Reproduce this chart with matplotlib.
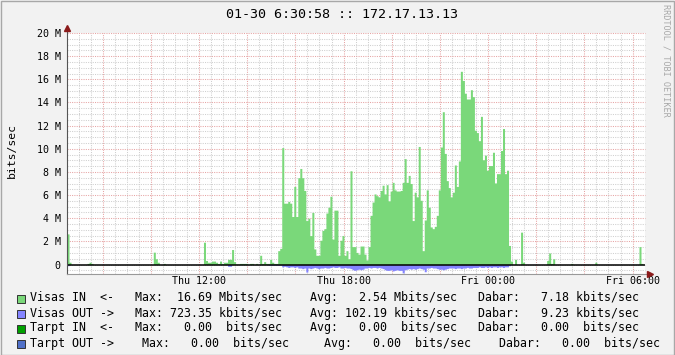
import numpy as np
import matplotlib
matplotlib.use("Agg")
import matplotlib.pyplot as plt

# 5 minute samples, 24 h ending 01-30 06:30:58 (hours counted from Thu 00:00)
start_hour = 6.516
step_hours = 5 / 60

visas_in = [  # Mbit/s
    2.65, 0.2, 0, 0, 0, 0, 0, 0, 0, 0, 0.1, 0.2,
    0.1, 0, 0, 0, 0, 0, 0, 0, 0, 0, 0, 0,
    0, 0, 0, 0, 0, 0, 0, 0, 0, 0, 0, 0,
    0, 0, 0, 0, 0, 0, 0, 1.07, 0.5, 0.2, 0, 0,
    0.1, 0, 0, 0, 0, 0, 0, 0, 0, 0, 0, 0,
    0, 0, 0, 0, 0, 0, 0, 0, 1.93, 0.35, 0.2, 0.2,
    0.3, 0.3, 0.2, 0.1, 0.3, 0.1, 0.2, 0.2, 0.45, 0.45, 1.3, 0.25,
    0.05, 0.05, 0.1, 0.1, 0.1, 0.1, 0, 0.1, 0.1, 0, 0.1, 0,
    0.8, 0.1, 0.25, 0.1, 0.1, 0.45, 0.2, 0.1, 0.1, 1.2, 1.4, 10.1,
    5.3, 5.3, 5.45, 5.3, 4.15, 6.75, 4.15, 7.5, 8.3, 7.5, 6.4, 3.8,
    4.0, 2.5, 4.5, 1.35, 0.8, 0.8, 2.1, 2.95, 3.1, 4.45, 4.95, 5.9,
    2.2, 4.7, 4.7, 0.8, 2.1, 2.5, 0.8, 1.2, 0.5, 8.1, 1.55, 1.55,
    1.05, 0.9, 1.6, 1.6, 0.9, 0.4, 1.55, 4.25, 5.4, 6.1, 5.95, 5.85,
    6.4, 6.85, 6.1, 6.9, 5.5, 6.35, 7.1, 6.45, 6.35, 6.35, 6.4, 7.1,
    9.15, 7.1, 7.7, 7.0, 3.8, 6.25, 5.85, 10.2, 5.55, 1.2, 3.85, 6.45,
    4.95, 3.25, 3.1, 3.3, 4.25, 6.45, 10.15, 13.2, 9.6, 7.25, 6.65, 5.85,
    6.25, 8.6, 6.75, 8.95, 16.69, 15.9, 14.8, 14.3, 14.3, 15.1, 14.5, 11.6,
    11.4, 10.7, 12.8, 9.05, 9.45, 8.15, 8.55, 8.55, 9.7, 7.05, 7.85, 7.85,
    9.85, 11.75, 7.85, 8.15, 1.65, 0.3, 0, 0.45, 0, 0, 2.8, 0.2,
    0, 0, 0, 0, 0, 0, 0, 0, 0, 0, 0, 0.35,
    1.0, 0.1, 0.5, 0, 0, 0, 0, 0, 0, 0, 0, 0.1,
    0, 0, 0, 0, 0, 0, 0, 0, 0, 0, 0, 0.2,
    0, 0, 0, 0, 0, 0, 0, 0, 0, 0, 0, 0,
    0, 0, 0, 0, 0, 0, 0, 0, 0, 1.55, 0.1, 0,
]

visas_out = [  # Mbit/s, drawn below zero
    0.1, 0, 0, 0, 0, 0, 0, 0, 0, 0, 0, 0,
    0, 0, 0, 0, 0, 0, 0, 0, 0, 0, 0, 0,
    0, 0, 0, 0, 0, 0, 0, 0, 0, 0, 0, 0,
    0, 0, 0, 0, 0, 0, 0, 0, 0, 0, 0, 0,
    0, 0, 0, 0, 0, 0, 0, 0, 0, 0, 0, 0,
    0, 0, 0, 0, 0, 0, 0, 0, 0, 0, 0, 0,
    0, 0, 0, 0, 0, 0, 0, 0, 0.15, 0.15, 0, 0,
    0, 0, 0, 0, 0, 0, 0, 0, 0, 0, 0, 0,
    0, 0, 0, 0, 0.05, 0.05, 0.05, 0.05, 0.05, 0.05, 0.05, 0.2,
    0.15, 0.2, 0.25, 0.2, 0.2, 0.25, 0.2, 0.3, 0.3, 0.35, 0.3, 0.65,
    0.3, 0.35, 0.3, 0.25, 0.3, 0.35, 0.3, 0.3, 0.25, 0.3, 0.3, 0.25,
    0.2, 0.25, 0.25, 0.2, 0.3, 0.3, 0.25, 0.3, 0.3, 0.35, 0.45, 0.5,
    0.45, 0.4, 0.45, 0.4, 0.3, 0.3, 0.25, 0.3, 0.25, 0.25, 0.3, 0.25,
    0.3, 0.35, 0.45, 0.5, 0.5, 0.45, 0.55, 0.5, 0.45, 0.5, 0.5, 0.72,
    0.45, 0.4, 0.35, 0.4, 0.35, 0.4, 0.35, 0.3, 0.35, 0.4, 0.62, 0.3,
    0.3, 0.25, 0.3, 0.3, 0.35, 0.4, 0.4, 0.45, 0.4, 0.35, 0.3, 0.3,
    0.3, 0.35, 0.3, 0.3, 0.35, 0.3, 0.3, 0.25, 0.3, 0.3, 0.25, 0.25,
    0.25, 0.2, 0.25, 0.25, 0.2, 0.25, 0.2, 0.25, 0.2, 0.2, 0.25, 0.2,
    0.2, 0.25, 0.2, 0.2, 0.1, 0, 0, 0, 0, 0, 0, 0,
    0, 0, 0, 0, 0, 0, 0, 0, 0, 0, 0, 0,
    0, 0, 0, 0, 0, 0, 0, 0, 0, 0, 0, 0,
    0, 0, 0, 0, 0, 0, 0, 0, 0, 0, 0, 0,
    0, 0, 0, 0, 0, 0, 0, 0, 0, 0, 0, 0,
    0, 0, 0, 0, 0, 0, 0, 0, 0, 0, 0, 0,
]

x_ticks = [12, 18, 24, 30]
x_labels = ["Thu 12:00", "Thu 18:00", "Fri 00:00", "Fri 06:00"]
y_ticks = [0, 2, 4, 6, 8, 10, 12, 14, 16, 18, 20]
y_labels = ["0", "2 M", "4 M", "6 M", "8 M", "10 M", "12 M", "14 M", "16 M", "18 M", "20 M"]

legend_colors = ["#7ad87a", "#8484ff", "#00a000", "#5070c8"]
legend_lines = [
    "Visas IN  <-   Max:  16.69 Mbits/sec    Avg:   2.54 Mbits/sec   Dabar:   7.18 kbits/sec",
    "Visas OUT ->   Max: 723.35 kbits/sec    Avg: 102.19 kbits/sec   Dabar:   9.23 kbits/sec",
    "Tarpt IN  <-   Max:   0.00  bits/sec    Avg:   0.00  bits/sec   Dabar:   0.00  bits/sec",
    "Tarpt OUT ->    Max:   0.00  bits/sec     Avg:   0.00  bits/sec    Dabar:   0.00  bits/sec",
]

MONO = "DejaVu Sans Mono"
W, H = 675, 355
BG = "#f2f2f2"


def fx(px):
    return px / W


def fy(py):
    return 1 - py / H


fig = plt.figure(figsize=(W / 100, H / 100), dpi=100, facecolor=BG)
top_px, bot_px = 33, 274.4
ax = fig.add_axes([fx(67), fy(bot_px), (645 - 67) / W, (bot_px - top_px) / H])
ax.set_facecolor("white")
y_min, y_max = -0.85, 20
x_min, x_max = start_hour, start_hour + 24
ax.set_xlim(x_min, x_max)
ax.set_ylim(y_min, y_max)
for s in ax.spines.values():
    s.set_visible(False)

# grid (rrdtool style dotted)
dots = (0, (1, 1.2))
minor_c, major_c = "#cfcfcf", "#e6a4a4"
for h in np.arange(7.0, x_max, 0.5):
    major = abs(h % 2) < 1e-9
    ax.axvline(h, color=major_c if major else minor_c, lw=0.75, ls=dots,
               zorder=0)
for v in np.arange(-0.5, y_max + 0.01, 0.5):
    major = abs(v % 2) < 1e-9 and v != 0
    ax.axhline(v, color=major_c if major else minor_c, lw=0.75, ls=dots,
               zorder=0, clip_on=False)

t = start_hour + step_hours * np.arange(len(visas_in) + 1)
vin = np.array(visas_in + [visas_in[-1]])
vout = -np.array(visas_out + [visas_out[-1]])
ax.fill_between(t, 0, vin, step="post", color=legend_colors[0], lw=0, zorder=2)
ax.fill_between(t, 0, vout, step="post", color=legend_colors[1], lw=0, zorder=2)
ax.axhline(0, color="black", lw=1.1, zorder=3)

# axes with arrows
ax.plot([x_min, x_min], [y_min, y_max + 0.35], color="#555555", lw=0.8,
        clip_on=False, zorder=4)
ax.plot([x_min, x_max + 0.15], [y_min, y_min], color="#999999", lw=0.8,
        clip_on=False, zorder=4)
ax.plot([x_min], [y_max + 0.45], marker="^", ms=4.5, color="#8b1a1a",
        clip_on=False, zorder=5)
ax.plot([x_max + 0.2], [y_min], marker=">", ms=4.5, color="#8b1a1a",
        clip_on=False, zorder=5)

ax.set_xticks(x_ticks, labels=x_labels)
ax.set_yticks(y_ticks, labels=y_labels)
ax.tick_params(length=0, labelsize=7.2, colors="#000000")
ax.tick_params(axis="x", pad=1.5)
ax.tick_params(axis="y", pad=4.5)
for lab in ax.get_xticklabels() + ax.get_yticklabels():
    lab.set_family(MONO)

fig.text(fx(12), fy(150), "bits/sec", rotation=90, ha="center", va="center",
         family=MONO, fontsize=8.2)
fig.text(fx(342), fy(14), "01-30 6:30:58 :: 172.17.13.13", ha="center",
         va="center", family=MONO, fontsize=9.6)
fig.text(fx(666), fy(60), "RRDTOOL / TOBI OETIKER", rotation=270, ha="center",
         va="center", family=MONO, fontsize=6.1, color="#a8a8a8")

for i, (col, line) in enumerate(zip(legend_colors, legend_lines)):
    y = 298 + 15 * i
    fig.patches.append(plt.Rectangle((fx(16.5), fy(y + 4.5)), 8 / W, 8 / H,
                                     transform=fig.transFigure, facecolor=col,
                                     edgecolor="#333333", lw=0.7))
    fig.text(fx(30.5), fy(y), line, ha="left", va="center", family=MONO,
             fontsize=8.35)

# frame
fig.patches.append(plt.Rectangle((0.5 / W, 0.5 / H), 1 - 1.5 / W, 1 - 1.5 / H,
                                 transform=fig.transFigure, fill=False,
                                 edgecolor="#a8a8a8", lw=1))

fig.savefig("out.png", dpi=100, facecolor=BG)
